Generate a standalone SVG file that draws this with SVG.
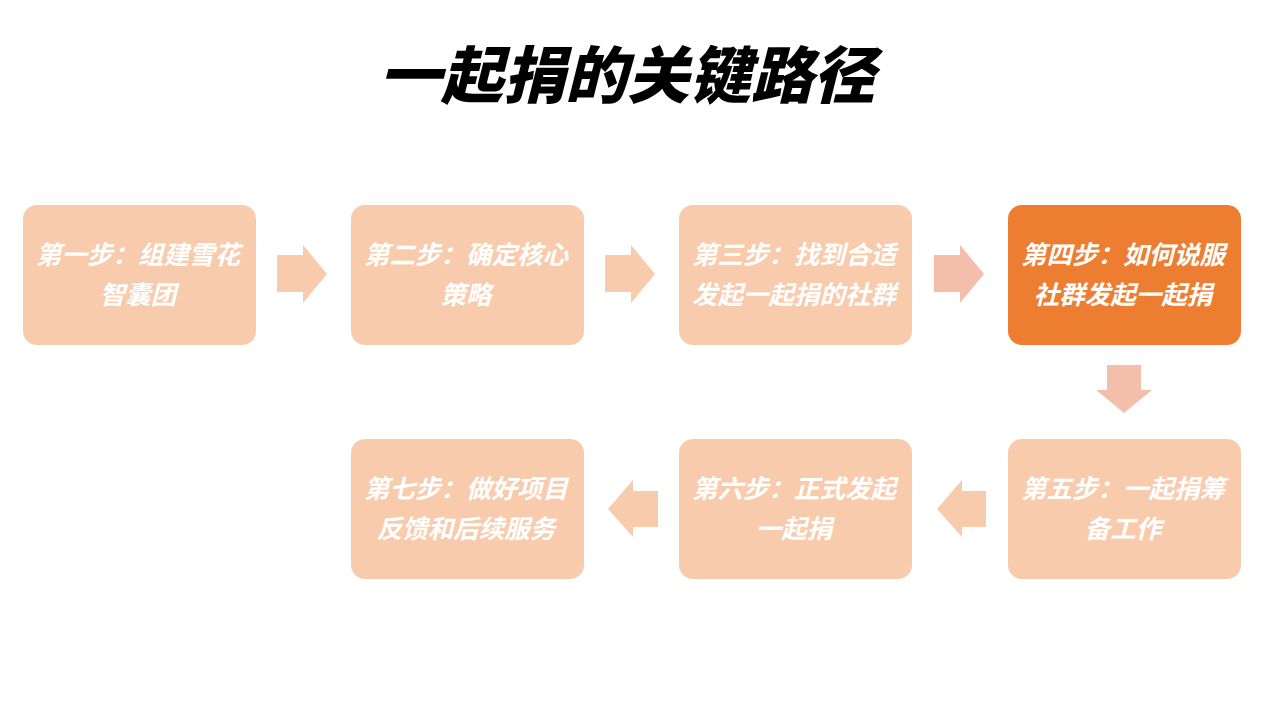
<svg xmlns="http://www.w3.org/2000/svg" width="1277" height="713" viewBox="0 0 1277 713">
<style>
.box{fill:#F8CBAD}
.hl{fill:#ED7D31}
.t{font-family:"Noto Sans CJK SC","Noto Sans",sans-serif;font-weight:700;font-style:italic;font-size:25.5px;fill:#FFFFFF;text-anchor:middle}
.title{font-family:"Noto Sans CJK SC","Noto Sans",sans-serif;font-weight:900;font-style:italic;font-size:62px;fill:#000000;text-anchor:middle}
.a{fill:#F8CBAD}
.ap{fill:#F4BFAA}
</style>
<rect width="1277" height="713" fill="#FFFFFF"/>
<text class="title" x="627" y="98">一起捐的关键路径</text>
<g id="connectors">
<polygon class="a" points="277,255 303,255 303,245 327,274 303,303 303,292 277,292"/>
<polygon class="a" points="605,255 631,255 631,245 655,274 631,303 631,292 605,292"/>
<polygon class="ap" points="934,255 960,255 960,245 984,274 960,303 960,292 934,292"/>
<polygon class="ap" points="1107,365 1141,365 1141,390 1152,390 1124,413 1096,390 1107,390"/>
<polygon class="a" points="986,491 962,491 962,480 937,509 962,537 962,527 986,527"/>
<polygon class="a" points="658,491 633,491 633,480 608,509 633,537 633,527 658,527"/>
</g>
<g id="node1"><rect class="box" x="23" y="205" width="233" height="140" rx="14"/><text class="t" x="138" y="264">第一步：组建雪花</text><text class="t" x="138" y="304">智囊团</text></g>
<g id="node2"><rect class="box" x="351" y="205" width="233" height="140" rx="14"/><text class="t" x="466" y="264">第二步：确定核心</text><text class="t" x="466" y="304">策略</text></g>
<g id="node3"><rect class="box" x="679" y="205" width="233" height="140" rx="14"/><text class="t" x="794" y="264">第三步：找到合适</text><text class="t" x="794" y="304">发起一起捐的社群</text></g>
<g id="node4"><rect class="hl" x="1008" y="205" width="233" height="140" rx="14"/><text class="t" x="1123" y="264">第四步：如何说服</text><text class="t" x="1123" y="304">社群发起一起捐</text></g>
<g id="node5"><rect class="box" x="1008" y="439" width="233" height="140" rx="14"/><text class="t" x="1123" y="498">第五步：一起捐筹</text><text class="t" x="1123" y="538">备工作</text></g>
<g id="node6"><rect class="box" x="679" y="439" width="233" height="140" rx="14"/><text class="t" x="794" y="498">第六步：正式发起</text><text class="t" x="794" y="538">一起捐</text></g>
<g id="node7"><rect class="box" x="351" y="439" width="233" height="140" rx="14"/><text class="t" x="466" y="498">第七步：做好项目</text><text class="t" x="466" y="538">反馈和后续服务</text></g>
</svg>
